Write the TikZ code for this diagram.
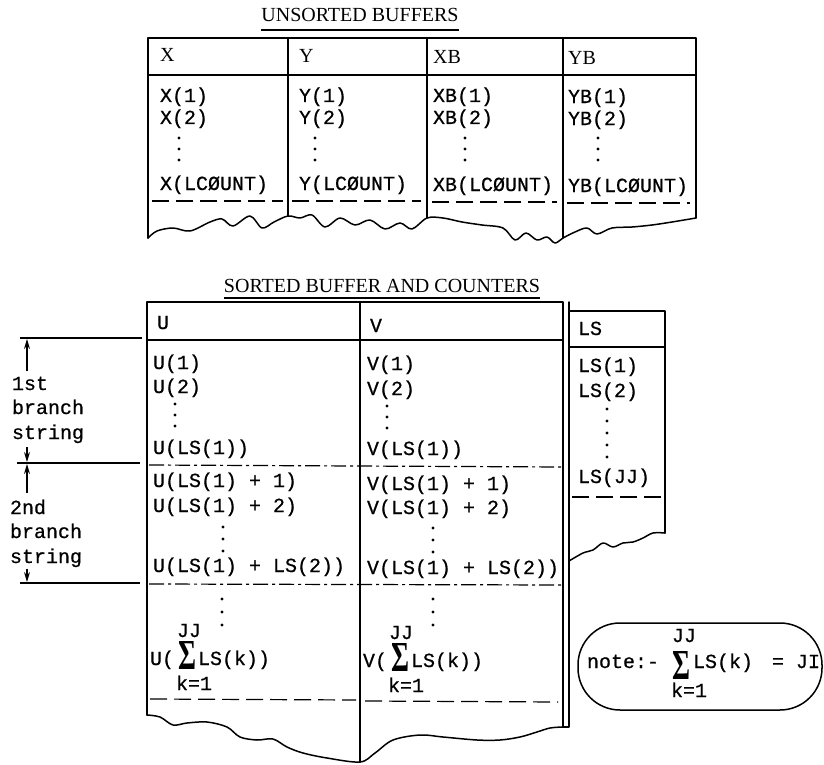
\documentclass[tikz,border=0pt]{standalone}
\usepackage{fontspec}
\setmainfont{Liberation Serif}
\setmonofont[FakeBold=0.6]{Liberation Mono}
\usepackage{graphicx}
\usetikzlibrary{arrows.meta}
\newcommand\bigsig{\resizebox{18pt}{28pt}{\bfseries Σ}}
\tikzset{
 body/.style={font=\ttfamily\fontsize{20}{20}\selectfont, anchor=base west, inner sep=0pt, outer sep=0pt},
 hdr/.style={font=\fontsize{20}{20}\selectfont, anchor=base west, inner sep=0pt},
 ttl/.style={font=\fontsize{20}{20}\selectfont, anchor=base, inner sep=0pt},
 frame/.style={line width=1.5pt, line join=round, line cap=round},
 rule/.style={line width=1.1pt},
 dashln/.style={line width=1.2pt, dash pattern=on 17pt off 7pt},
 dashdot/.style={line width=1.2pt, dash pattern=on 15pt off 4pt on 3pt off 4pt},
 dotp/.style={fill=black, circle, inner sep=0pt, minimum size=3.4pt},
 sig/.style={inner sep=0pt, anchor=center},
 arr/.style={line width=1.3pt, -{Stealth[length=10pt,width=6pt]}},
}
\begin{document}
\begin{tikzpicture}[x=1pt,y=-1pt]
\useasboundingbox (0,0) rectangle (824,765);

% ---------- UNSORTED BUFFERS ----------
\node[ttl] (t1) at (360,22) {UNSORTED BUFFERS};
\draw[rule] ([yshift=-8pt]t1.base west) -- ([yshift=-8pt]t1.base east);

\draw[frame] (148,238) -- (148,38) -- (696,38) -- (696,218);
\draw[frame] (148,75) -- (696,75);
\draw[frame] (288,38) -- (288,216);
\draw[frame] (427,38) -- (427,218);
\draw[frame] (563,38) -- (563,238);
\draw[frame] plot[smooth, tension=0.55] coordinates {(148,238) (157,231) (173,228) (190,231) (210,222) (222,219) (233,226) (250,216) (262,228) (274,222) (288,216) (300,218) (312,215) (325,227) (340,218) (355,225) (370,220) (385,229) (400,223) (412,229) (427,218) (443,218) (462,222) (482,225) (503,228) (515,240) (526,233) (537,240) (547,237) (555,243) (563,238) (575,232) (587,228) (597,234) (612,228) (632,227) (652,225) (672,222) (696,218)};

\node[hdr] (hx) at (160,62) {X};
\node[hdr] (hy) at (299,63) {Y};
\node[hdr] (hxb) at (433,64) {XB};
\node[hdr] (hyb) at (568,65) {YB};

\node[body] (x1) at (160,102) {X(1)};
\node[body] (x2) at (160,124) {X(2)};
\node[body] (xn) at (160,190) {X(LCØUNT)};
\node[body] (y1) at (299,102) {Y(1)};
\node[body] (y2) at (299,124) {Y(2)};
\node[body] (yn) at (299,190) {Y(LCØUNT)};
\node[body] (xb1) at (433,102) {XB(1)};
\node[body] (xb2) at (433,124) {XB(2)};
\node[body] (xbn) at (433,191) {XB(LCØUNT)};
\node[body] (yb1) at (568,103) {YB(1)};
\node[body] (yb2) at (568,125) {YB(2)};
\node[body] (ybn) at (568,192) {YB(LCØUNT)};
\foreach \yy [count=\i] in {138,149,160} {
  \node[dotp] (xd\i) at (179,\yy) {};
  \node[dotp] (yd\i) at (315,\yy) {};
  \node[dotp] (xbd\i) at (465,\yy) {};
  \node[dotp] (ybd\i) at (598,\yy) {};
}
\draw[dashln] (152,201) -- (283,201);
\draw[dashln] (292,201) -- (421,201);
\draw[dashln] (432,202) -- (557,202);
\draw[dashln] (567,203) -- (690,203);

% ---------- SORTED BUFFER AND COUNTERS ----------
\node[ttl] (t2) at (382,292) {SORTED BUFFER AND COUNTERS};
\draw[rule] ([yshift=-6pt]t2.base west) -- ([yshift=-6pt]t2.base east);

\draw[frame] (147,715) -- (147,302) -- (563,302) -- (563,727) -- (569,727) -- (569,302);
\draw[frame] (147,340) -- (563,340);
\draw[frame] (360,302) -- (360,762);
\draw[frame] plot[smooth, tension=0.55] coordinates {(147,715) (160,717) (173,725) (187,723) (207,722) (227,727) (240,737) (257,740) (273,739) (287,747) (303,753) (327,758) (360,762) (375,753) (393,740) (420,735) (443,737) (477,740) (500,740) (520,737) (537,732) (550,728) (563,727)};

% LS column
\draw[frame] (569,311) -- (665,311) -- (665,533);
\draw[frame] (569,347) -- (665,347);
\draw[frame] plot[smooth, tension=0.55] coordinates {(569,561) (583,553) (593,550) (603,543) (613,547) (623,543) (633,542) (643,538) (653,533) (665,533)};

\node[body] (hu) at (157,329) {U};
\node[body] (hv) at (370,332) {V};
\node[body] (hls) at (578,335) {LS};

% U column
\node[body] (u1) at (153,369) {U(1)};
\node[body] (u2) at (153,393) {U(2)};
\node[body] (u3) at (153,454) {U(LS(1))};
\node[body] (u4) at (153,487) {U(LS(1) + 1)};
\node[body] (u5) at (153,512) {U(LS(1) + 2)};
\node[body] (u6) at (153,572) {U(LS(1) + LS(2))};
% V column
\node[body] (v1) at (367,370) {V(1)};
\node[body] (v2) at (367,395) {V(2)};
\node[body] (v3) at (367,455) {V(LS(1))};
\node[body] (v4) at (367,490) {V(LS(1) + 1)};
\node[body] (v5) at (367,514) {V(LS(1) + 2)};
\node[body] (v6) at (367,574) {V(LS(1) + LS(2))};
\foreach \yy [count=\i] in {404,415,426} {
  \node[dotp] (ud\i) at (175,\yy) {};
  \node[dotp] (vd\i) at (387,\yy+2) {};
}
\foreach \yy [count=\i] in {527,539,551} {
  \node[dotp] (ue\i) at (223,\yy) {};
  \node[dotp] (ve\i) at (433,\yy+1) {};
}
\foreach \yy [count=\i] in {599,612,625} {
  \node[dotp] (uf\i) at (222,\yy) {};
  \node[dotp] (vf\i) at (433,\yy) {};
}
% sums
\node[body] (us1) at (150,665) {U(};
\node[sig] (usg) at (187,655) {\bigsig};
\node[body] (us2) at (198,665) {LS(k))};
\node[body] (usj) at (177,637) {JJ};
\node[body] (usk) at (176,690) {k=1};
\node[body] (vs1) at (363,667) {V(};
\node[sig] (vsg) at (400,657) {\bigsig};
\node[body] (vs2) at (411,667) {LS(k))};
\node[body] (vsj) at (389,639) {JJ};
\node[body] (vsk) at (388,692) {k=1};

% LS texts
\node[body] (ls1) at (578,372) {LS(1)};
\node[body] (ls2) at (578,397) {LS(2)};
\node[body] (lsn) at (578,483) {LS(JJ)};
\foreach \yy [count=\i] in {409,421,433,445,457} {
  \node[dotp] (lsd\i) at (607,\yy) {};
}
\draw[dashln] (572,497) -- (661,497);

% separators
\draw[dashdot] (149,465) -- (563,467);
\draw[dashdot] (149,584) -- (563,585);
\draw[dashln] (150,699) -- (356,700);
\draw[dashln] (365,701) -- (558,702);

% ---------- left annotations ----------
\coordinate (h1s) at (20,338);  \coordinate (h1e) at (142,338);
\coordinate (h2s) at (17,463);  \coordinate (h2e) at (140,463);
\coordinate (h3s) at (20,583);  \coordinate (h3e) at (140,583);
\draw[rule] (h1s) -- (h1e);
\draw[rule] (h2s) -- (h2e);
\draw[rule] (h3s) -- (h3e);
\coordinate (a1) at (27,371); \coordinate (a1t) at (27,339);
\coordinate (a2) at (27,447); \coordinate (a2t) at (27,462);
\coordinate (a3) at (27,493); \coordinate (a3t) at (27,464);
\coordinate (a4) at (27,569); \coordinate (a4t) at (27,582);
\draw[arr] (a1) -- (a1t);
\draw[arr] (a2) -- (a2t);
\draw[arr] (a3) -- (a3t);
\draw[arr] (a4) -- (a4t);
\node[body] (l1) at (12,390) {1st};
\node[body] (l2) at (12,414) {branch};
\node[body] (l3) at (12,439) {string};
\node[body] (l4) at (10,514) {2nd};
\node[body] (l5) at (10,538) {branch};
\node[body] (l6) at (10,563) {string};

% ---------- note ----------
\node[draw, frame, rounded corners=42pt, minimum width=244pt, minimum height=87pt, inner sep=0pt] (note) at (700,666.5) {};
\node[body] (n1) at (587,668) {note:-};
\node[sig] (nsg) at (681,665) {\bigsig};
\node[body] (n2) at (693,668) {LS(k)};
\node[body] (n3) at (772,668) {= JI};
\node[body] (nj) at (672,642) {JJ};
\node[body] (nk) at (671,697) {k=1};
\end{tikzpicture}
\end{document}
